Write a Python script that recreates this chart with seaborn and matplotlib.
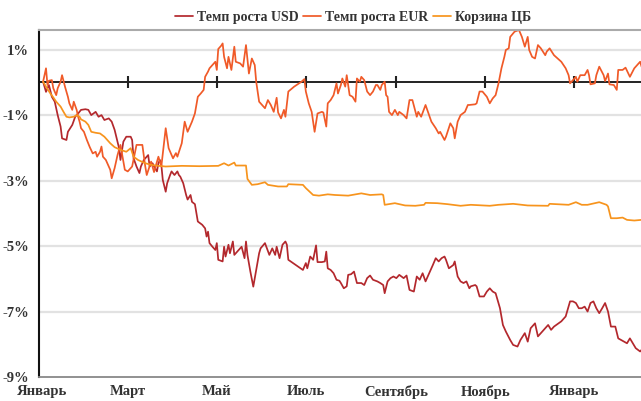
import matplotlib
matplotlib.use("Agg")
import matplotlib.pyplot as plt
import seaborn as sns
import pandas as pd

# Days counted from 1 January; values are growth in percent
usd_day = [1, 3, 5, 7, 9, 11, 13, 14, 17, 18, 21, 23, 25, 27, 30, 32, 34, 37, 39, 41,
           43, 46, 48, 50, 53, 54, 55, 56, 58, 61, 62, 63, 65, 67, 68, 70, 71, 73, 74, 76,
           77, 79, 80, 81, 82, 83, 85, 86, 88, 89, 91, 93, 94, 95, 97, 99, 100, 102, 103, 105,
           107, 110, 112, 113, 114, 115, 117, 119, 120, 121, 124, 125, 126, 128, 129, 131, 132, 135, 137, 139,
           140, 141, 143, 145, 147, 149, 150, 153, 156, 158, 160, 161, 163, 165, 167, 168, 169, 179, 181, 182,
           184, 186, 188, 189, 192, 194, 195, 196, 198, 200, 202, 204, 205, 207, 209, 210, 212, 214, 216, 219,
           221, 223, 225, 227, 230, 232, 234, 235, 237, 239, 241, 243, 245, 248, 250, 252, 255, 257, 259, 261,
           263, 265, 268, 270, 272, 274, 276, 277, 279, 282, 283, 285, 287, 289, 291, 293, 294, 297, 298, 300,
           303, 305, 307, 309, 311, 314, 316, 318, 321, 323, 326, 328, 331, 333, 335, 338, 340, 342, 344, 346,
           347, 349, 351, 356, 359, 362, 364, 366, 368, 370, 372, 374, 376, 378, 380, 382, 384, 386, 388, 390,
           393, 395, 397, 399, 401, 403, 405, 407, 410, 411]
usd_val = [0.02, -0.29, -0.08, -0.44, -0.59, -1.00, -1.35, -1.71, -1.76, -1.51, -1.30, -1.05, -0.95, -0.84, -0.82, -0.84, -1.00, -0.90, -1.05, -1.00,
           -1.15, -1.10, -1.20, -1.45, -2.00, -2.37, -2.10, -1.81, -1.66, -1.66, -1.76, -2.32, -2.57, -2.77, -2.57, -2.37, -2.32, -2.22, -2.57, -2.47,
           -2.57, -2.72, -2.47, -2.37, -2.52, -2.98, -3.34, -3.08, -2.83, -2.72, -2.83, -2.72, -2.83, -2.88, -3.08, -3.44, -3.58, -3.44, -3.65, -3.72,
           -4.25, -4.35, -4.46, -4.71, -4.56, -4.91, -5.02, -5.12, -4.91, -5.42, -5.47, -5.02, -5.32, -4.96, -5.22, -4.86, -5.27, -5.12, -5.02, -5.37,
           -4.86, -5.27, -5.78, -6.24, -5.73, -5.22, -5.07, -4.91, -5.27, -5.07, -5.27, -5.02, -5.37, -4.96, -4.86, -4.96, -5.42, -5.73, -5.52, -5.68,
           -5.32, -5.42, -4.98, -5.49, -5.49, -5.47, -5.17, -5.68, -5.73, -5.83, -6.03, -6.06, -6.13, -6.29, -6.23, -5.88, -5.86, -5.78, -6.13, -6.13,
           -6.19, -5.98, -5.90, -6.03, -6.08, -6.13, -6.19, -6.44, -6.08, -5.98, -5.93, -5.98, -5.88, -5.98, -5.90, -6.34, -6.39, -5.93, -6.03, -5.83,
           -6.08, -5.88, -5.58, -5.37, -5.47, -5.37, -5.32, -5.42, -5.68, -5.58, -5.47, -5.93, -6.08, -6.13, -6.08, -6.29, -6.23, -6.19, -6.23, -6.54,
           -6.54, -6.39, -6.29, -6.39, -6.44, -6.90, -7.41, -7.61, -7.87, -8.02, -8.07, -7.87, -7.66, -7.92, -7.51, -7.36, -7.76, -7.66, -7.56, -7.46,
           -7.41, -7.56, -7.46, -7.30, -7.15, -6.69, -6.69, -6.74, -6.90, -6.90, -6.85, -7.00, -6.74, -6.69, -6.90, -7.05, -6.90, -6.74, -7.00, -7.46,
           -7.46, -7.82, -7.87, -7.92, -7.97, -7.82, -7.97, -8.12, -8.22, -8.17]

eur_day = [1, 3, 4, 5, 7, 8, 10, 11, 13, 14, 16, 18, 19, 21, 22, 24, 25, 26, 27, 29,
           31, 33, 35, 37, 38, 40, 41, 42, 44, 46, 47, 48, 50, 52, 54, 57, 59, 62, 65, 69,
           71, 72, 75, 77, 80, 82, 85, 87, 90, 92, 93, 96, 98, 100, 103, 105, 107, 109, 111, 112,
           114, 115, 117, 119, 120, 121, 123, 124, 125, 127, 128, 130, 132, 133, 136, 138, 140, 142, 144, 146,
           147, 149, 151, 153, 155, 157, 159, 161, 162, 164, 166, 167, 169, 173, 178, 180, 181, 183, 185, 187,
           189, 192, 193, 195, 196, 198, 200, 202, 203, 205, 206, 208, 209, 211, 213, 215, 216, 218, 219, 221,
           223, 225, 227, 229, 230, 232, 233, 235, 236, 237, 238, 240, 242, 244, 245, 248, 250, 252, 254, 257,
           258, 260, 263, 265, 267, 270, 272, 273, 276, 277, 280, 282, 283, 285, 287, 290, 292, 293, 297, 298,
           300, 302, 305, 307, 309, 311, 313, 315, 317, 318, 320, 321, 324, 327, 329, 331, 333, 334, 336, 338,
           340, 342, 345, 346, 348, 351, 356, 359, 361, 362, 364, 366, 367, 369, 372, 374, 375, 376, 379, 380,
           382, 385, 386, 388, 389, 392, 394, 395, 398, 400, 403, 406, 410, 411]
eur_val = [0.02, 0.43, -0.08, 0.05, 0.07, -0.18, -0.39, -0.18, 0.02, 0.22, -0.13, -0.44, -0.64, -0.84, -0.59, -0.84, -1.05, -1.20, -1.40, -1.51,
           -1.76, -1.98, -2.17, -2.12, -2.27, -2.12, -1.96, -2.27, -2.37, -2.57, -2.67, -2.93, -2.62, -2.22, -1.91, -2.67, -2.72, -2.57, -1.91, -1.91,
           -2.57, -2.83, -2.42, -2.74, -2.27, -2.57, -1.40, -2.01, -2.32, -2.16, -2.27, -1.86, -1.20, -1.51, -1.20, -0.95, -0.44, -0.34, -0.23, 0.17,
           0.33, 0.43, 0.53, 0.63, 0.38, 1.02, 1.12, 1.19, 0.78, 0.43, 0.78, 0.38, 1.09, 0.63, 0.58, 0.48, 1.14, 0.27, 0.73, 0.53,
           0.02, -0.59, -0.69, -0.79, -0.54, -0.69, -0.90, -0.47, -0.92, -1.10, -0.84, -1.05, -0.28, -0.13, 0.02, 0.10, -0.28, -0.64, -0.90, -1.51,
           -0.95, -0.90, -0.92, -1.35, -0.64, -0.54, -0.39, -0.03, -0.34, -0.08, 0.12, -0.13, 0.22, -0.39, -0.44, -0.59, 0.12, 0.02, 0.17, 0.07,
           -0.28, -0.39, -0.28, -0.08, -0.08, -0.23, -0.08, 0.02, -0.39, -0.44, -0.90, -1.00, -0.84, -1.00, -0.90, -1.00, -1.10, -0.54, -0.54, -1.05,
           -0.90, -1.05, -0.69, -0.95, -1.20, -1.40, -1.56, -1.51, -1.76, -1.66, -1.25, -1.40, -1.71, -1.20, -1.00, -0.90, -0.69, -0.69, -0.67, -0.64,
           -0.28, -0.28, -0.44, -0.64, -0.49, -0.39, -0.03, 0.43, 0.78, 0.99, 1.04, 1.39, 1.55, 1.60, 1.39, 1.09, 1.39, 0.99, 0.78, 0.73,
           1.14, 1.04, 0.83, 0.94, 1.04, 0.83, 0.63, 0.43, 0.22, -0.03, 0.07, 0.17, 0.02, 0.22, 0.22, 0.38, 0.22, -0.06, -0.03, 0.22,
           0.48, 0.22, 0.04, 0.27, -0.06, -0.08, -0.23, 0.38, 0.38, 0.45, 0.17, 0.43, 0.63, 0.48]

basket_day = [1, 3, 6, 8, 10, 13, 15, 17, 19, 22, 24, 26, 27, 30, 32, 34, 37, 40, 43, 47,
              50, 54, 58, 61, 63, 66, 71, 75, 80, 85, 96, 108, 121, 125, 128, 132, 133, 140, 141, 144,
              148, 153, 155, 162, 168, 169, 179, 181, 186, 190, 196, 201, 210, 219, 225, 233, 234, 235, 242, 249,
              256, 262, 263, 271, 278, 287, 294, 307, 313, 323, 333, 347, 348, 361, 366, 370, 374, 382, 387, 388,
              390, 394, 398, 401, 406, 411]
basket_val = [0.02, -0.13, -0.34, -0.46, -0.59, -0.74, -0.90, -1.05, -1.07, -1.05, -1.00, -1.05, -1.13, -1.20, -1.30, -1.51, -1.54, -1.56, -1.66, -1.86,
              -1.98, -2.06, -2.12, -2.01, -2.27, -2.37, -2.47, -2.52, -2.55, -2.57, -2.55, -2.56, -2.55, -2.47, -2.54, -2.45, -2.54, -2.54, -2.95, -3.13,
              -3.11, -3.05, -3.13, -3.18, -3.18, -3.11, -3.13, -3.23, -3.44, -3.46, -3.42, -3.44, -3.46, -3.39, -3.44, -3.42, -3.44, -3.74, -3.69, -3.76,
              -3.77, -3.74, -3.68, -3.69, -3.72, -3.77, -3.74, -3.77, -3.74, -3.71, -3.76, -3.77, -3.71, -3.74, -3.66, -3.74, -3.74, -3.66, -3.74, -3.79,
              -4.15, -4.15, -4.13, -4.20, -4.22, -4.20]

series_names = ["Темп роста USD", "Темп роста EUR", "Корзина ЦБ"]
colors = ["#b3282d", "#f05a28", "#f7941d"]

month_ticks = ["2013-01-01", "2013-03-01", "2013-05-01", "2013-07-01", "2013-09-01", "2013-11-01", "2014-01-01"]
month_labels = ["Январь", "Март", "Май", "Июль", "Сентябрь", "Ноябрь", "Январь"]
y_ticks = [1, -1, -3, -5, -7, -9]

start = pd.Timestamp("2013-01-01")
frames = []
for name, days, vals in zip(series_names, [usd_day, eur_day, basket_day], [usd_val, eur_val, basket_val]):
    frames.append(pd.DataFrame({
        "date": start + pd.to_timedelta(days, unit="D"),
        "value": vals,
        "series": name,
    }))
df = pd.concat(frames, ignore_index=True)

sns.set_style("white")
plt.rcParams["font.family"] = ["Liberation Serif", "DejaVu Serif"]

fig = plt.figure(figsize=(6.41, 4.01), dpi=100)
ax = fig.add_axes([39 / 641, 24 / 401, 602 / 641, 347 / 401])

sns.lineplot(data=df, x="date", y="value", hue="series", hue_order=series_names,
             palette=colors, estimator=None, linewidth=1.25, ax=ax)

ax.set_xlim(start - pd.Timedelta(days=1.8), start + pd.Timedelta(days=410.6))
ax.set_ylim(-9, 1.6)

# horizontal grid and zero line
for v in y_ticks[:-1]:
    ax.axhline(v, color="#e2e2e2", linewidth=1.6, zorder=0)
ax.axhline(0, color="#111111", linewidth=1.3, zorder=1)
tick_dates = pd.to_datetime(month_ticks[1:])
ax.plot(tick_dates, [0] * len(tick_dates), linestyle="none", marker="|",
        markersize=8, markeredgewidth=1.5, color="#222222", zorder=1)

ax.set_yticks(y_ticks)
ax.set_yticklabels([f"{v}%" for v in y_ticks], fontsize=10.5, fontweight="bold", color="#333333")
ax.set_xticks(pd.to_datetime(month_ticks))
ax.set_xticklabels(month_labels, fontsize=10.5, fontweight="bold", color="#333333")
ax.tick_params(axis="x", length=0, pad=6)
ax.tick_params(axis="y", length=0, pad=7)
ax.set_xlabel("")
ax.set_ylabel("")

ax.spines["right"].set_visible(False)
ax.spines["top"].set_color("#aaaaaa")
ax.spines["top"].set_linewidth(1.5)
ax.spines["bottom"].set_color("#888888")
ax.spines["bottom"].set_linewidth(1.3)
ax.spines["left"].set_color("#111111")
ax.spines["left"].set_linewidth(1.5)

ax.legend(loc="center", bbox_to_anchor=(353 / 641, 1 - 17 / 401), bbox_transform=fig.transFigure,
          ncol=3, frameon=False, handlelength=1.3, handletextpad=0.3, columnspacing=0.3,
          prop={"weight": "bold", "size": 10})
for t in ax.get_legend().get_texts():
    t.set_color("#333333")

fig.savefig("out.png", dpi=100)
